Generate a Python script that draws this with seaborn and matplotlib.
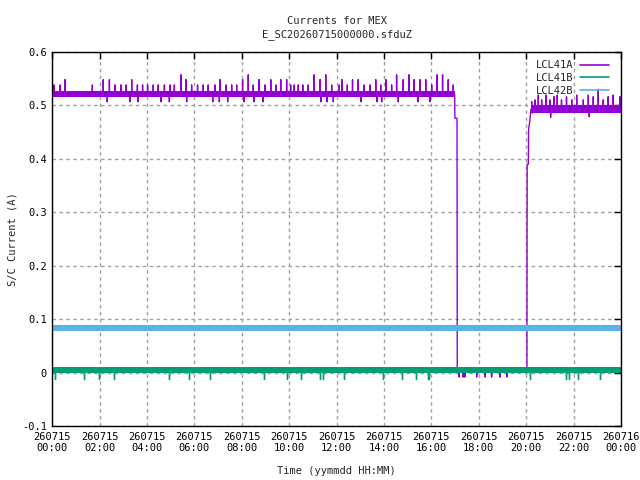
import numpy as np
import pandas as pd
import matplotlib
matplotlib.use("Agg")
import matplotlib.pyplot as plt
import seaborn as sns

# ---------------- data (hours since 2026-07-15 00:00, current in A) ----------------
series_names = ["LCL41A", "LCL41B", "LCL42B"]
series_colors = ["#9400D3", "#009E73", "#56B4E9"]

x_ticks = [0, 2, 4, 6, 8, 10, 12, 14, 16, 18, 20, 22, 24]
x_tick_labels = ["260715\n00:00", "260715\n02:00", "260715\n04:00", "260715\n06:00",
                 "260715\n08:00", "260715\n10:00", "260715\n12:00", "260715\n14:00",
                 "260715\n16:00", "260715\n18:00", "260715\n20:00", "260715\n22:00",
                 "260716\n00:00"]
y_ticks = [-0.1, 0, 0.1, 0.2, 0.3, 0.4, 0.5, 0.6]
y_tick_labels = ["-0.1", "0", "0.1", "0.2", "0.3", "0.4", "0.5", "0.6"]

# LCL41A baseline knots
a_knot_t = [0.0, 16.98, 16.99, 17.08, 17.09, 20.03, 20.04, 20.09, 20.10, 20.15, 20.20, 24.0]
a_knot_v = [0.521, 0.521, 0.476, 0.476, 0.002, 0.002, 0.390, 0.390, 0.455, 0.470, 0.493, 0.493]
# LCL41A dense-noise bands (start, end, centre, half-width)
a_band_t0 = [0.0, 20.20]
a_band_t1 = [16.98, 24.0]
a_band_c = [0.5215, 0.493]
a_band_h = [0.0055, 0.007]
# LCL41A spikes
a_spk_t = [0.07, 0.32, 0.54, 1.69, 2.15, 2.41, 2.65, 2.89, 3.11, 3.35, 3.59, 3.81, 4.02,
           4.26, 4.47, 4.73, 4.97, 5.15, 5.43, 5.64, 5.88, 6.13, 6.37, 6.58, 6.86, 7.08,
           7.33, 7.57, 7.78, 8.03, 8.27, 8.48, 8.72, 8.97, 9.22, 9.44, 9.64, 9.89, 10.06,
           10.21, 10.38, 10.57, 10.80, 11.04, 11.30, 11.54, 11.79, 12.11, 12.22, 12.45,
           12.67, 12.91, 13.15, 13.41, 13.65, 13.86, 14.08, 14.32, 14.53, 14.81, 15.05,
           15.27, 15.51, 15.76, 16.01, 16.24, 16.47, 16.71, 16.92,
           2.32, 3.28, 3.62, 4.59, 4.94, 5.67, 6.77, 7.05, 7.40, 8.09, 8.51, 8.90, 11.34,
           11.60, 11.86, 13.03, 13.70, 13.90, 14.60, 15.44, 15.94,
           17.17, 17.34, 17.41, 17.91, 18.26, 18.54, 18.89, 19.19,
           20.23, 20.37, 20.51, 20.65, 20.83, 21.00, 21.17, 21.31, 21.49, 21.70, 21.92,
           22.13, 22.41, 22.62, 22.83, 23.04, 23.25, 23.46, 23.67, 23.95,
           20.26, 21.03, 22.66]
a_spk_v = [0.538, 0.538, 0.548, 0.538, 0.548, 0.548, 0.538, 0.538, 0.538, 0.548, 0.538,
           0.538, 0.538, 0.538, 0.538, 0.538, 0.538, 0.538, 0.557, 0.548, 0.538, 0.538,
           0.538, 0.538, 0.538, 0.548, 0.538, 0.538, 0.538, 0.548, 0.557, 0.538, 0.548,
           0.538, 0.548, 0.538, 0.548, 0.548, 0.538, 0.538, 0.538, 0.538, 0.538, 0.557,
           0.548, 0.557, 0.538, 0.538, 0.548, 0.538, 0.548, 0.548, 0.538, 0.538, 0.548,
           0.538, 0.548, 0.538, 0.557, 0.548, 0.557, 0.548, 0.548, 0.548, 0.538, 0.557,
           0.557, 0.548, 0.538,
           0.507, 0.507, 0.507, 0.507, 0.507, 0.507, 0.507, 0.507, 0.507, 0.507, 0.507,
           0.507, 0.507, 0.507, 0.507, 0.507, 0.507, 0.507, 0.507, 0.507, 0.507,
           -0.008, -0.008, -0.008, -0.008, -0.008, -0.008, -0.008, -0.008,
           0.507, 0.510, 0.519, 0.510, 0.519, 0.510, 0.516, 0.519, 0.510, 0.516, 0.510,
           0.519, 0.510, 0.519, 0.516, 0.530, 0.510, 0.516, 0.519, 0.516,
           0.486, 0.478, 0.479]

# LCL41B
b_knot_t = [0.0, 24.0]
b_knot_v = [0.0048, 0.0048]
b_band_t0 = [0.0]
b_band_t1 = [24.0]
b_band_c = [0.0048]
b_band_h = [0.0062]
b_spk_t = [0.11, 1.35, 1.98, 2.62, 4.94, 5.78, 6.65, 8.95, 9.89, 10.49, 11.30, 11.41,
           12.32, 13.94, 14.77, 15.33, 15.84, 15.91, 20.16, 21.68, 21.80, 22.20, 23.10]
b_spk_v = [-0.012] * 23

# LCL42B
c_knot_t = [0.0, 24.0]
c_knot_v = [0.0835, 0.0835]
c_band_t0 = [0.0]
c_band_t1 = [24.0]
c_band_c = [0.0835]
c_band_h = [0.0055]
c_spk_t = []
c_spk_v = []


def build(knot_t, knot_v, spk_t, spk_v):
    rows = [(t, 0, v) for t, v in zip(knot_t, knot_v)]
    base = np.interp(spk_t, knot_t, knot_v) if len(spk_t) else []
    for t, v, b in zip(spk_t, spk_v, base):
        rows += [(t, 1, b), (t, 2, v), (t, 3, b)]
    df = pd.DataFrame(rows, columns=["t", "k", "v"])
    return df.sort_values(["t", "k"], kind="stable").reset_index(drop=True)


# ---------------- figure ----------------
sns.set_style("white")
plt.rcParams["font.family"] = ["DejaVu Sans Mono", "DejaVu Sans"]
plt.rcParams["font.size"] = 7.5

fig = plt.figure(figsize=(6.4, 4.8), dpi=100)
ax = fig.add_axes([52.3 / 640, 54 / 480, (621 - 52.3) / 640, (426 - 52) / 480])
ax.set_axisbelow(True)

specs = [
    (a_knot_t, a_knot_v, a_spk_t, a_spk_v, a_band_t0, a_band_t1, a_band_c, a_band_h),
    (b_knot_t, b_knot_v, b_spk_t, b_spk_v, b_band_t0, b_band_t1, b_band_c, b_band_h),
    (c_knot_t, c_knot_v, c_spk_t, c_spk_v, c_band_t0, c_band_t1, c_band_c, c_band_h),
]
for i, (name, col, sp) in enumerate(zip(series_names, series_colors, specs)):
    kt, kv, st, sv, bt0, bt1, bc, bh = sp
    df = build(kt, kv, st, sv)
    sns.lineplot(data=df, x="t", y="v", sort=False, estimator=None, color=col,
                 linewidth=1.0, label=name, ax=ax, zorder=3 + i)
    for t0, t1, c, h in zip(bt0, bt1, bc, bh):
        ax.fill_between([t0, t1], [c - h, c - h], [c + h, c + h], color=col,
                        linewidth=0, zorder=3 + i)

ax.set_xlim(0, 24)
ax.set_ylim(-0.1, 0.6)
ax.set_xticks(x_ticks)
ax.set_xticklabels(x_tick_labels)
ax.set_yticks(y_ticks)
ax.set_yticklabels(y_tick_labels)
ax.grid(True, color="#a0a0a0", linestyle=(0, (2.5, 2.5)), linewidth=1, zorder=0.5)
ax.tick_params(direction="in", length=5, width=1, top=True, right=True,
               labelsize=7.5, colors="black", pad=4)
for s in ax.spines.values():
    s.set_color("black")
    s.set_linewidth(1)
    s.set_zorder(10)

ax.set_xlabel("Time (yymmdd HH:MM)", fontsize=7.5, labelpad=9.5)
ax.set_ylabel("S/C Current (A)", fontsize=7.5, labelpad=3)
ax.set_title("Currents for MEX\nE_SC20260715000000.sfduZ", fontsize=7.5, pad=11,
             linespacing=1.4)

leg = ax.legend(loc="upper right", bbox_to_anchor=(0.993, 1.0), markerfirst=False,
                frameon=False, fontsize=7.5, handlelength=2.8, handletextpad=0.6,
                labelspacing=0.25, borderaxespad=0.4)
for h in leg.get_lines():
    h.set_linewidth(1.2)

fig.savefig("out.png", dpi=100)
